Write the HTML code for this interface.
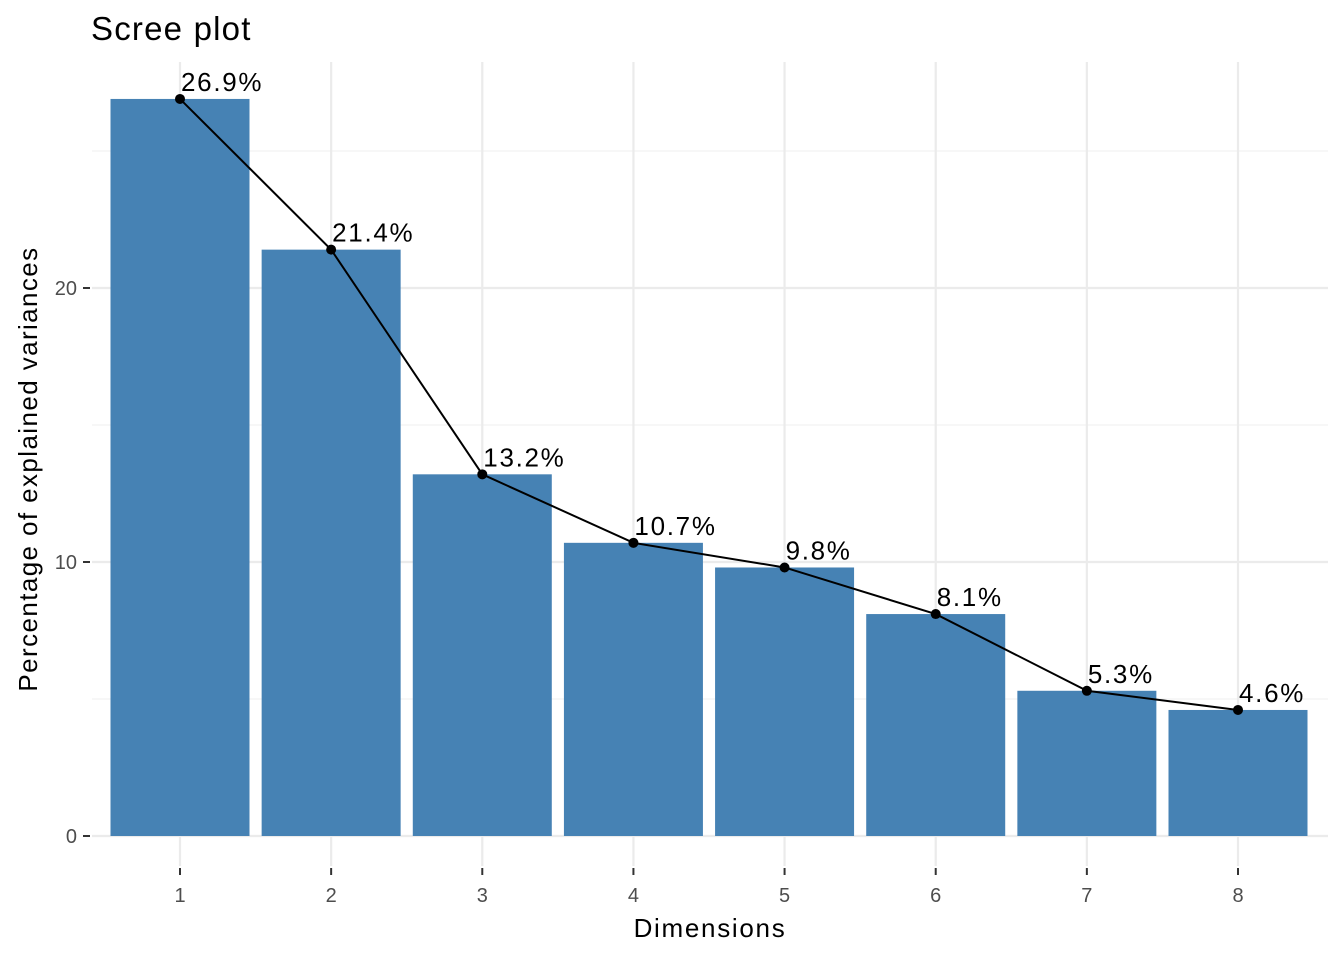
<!DOCTYPE html>
<html><head><meta charset="utf-8"><style>
body{margin:0;background:#fff;}
svg{display:block;font-family:"Liberation Sans",Arial,sans-serif;}
</style></head><body>
<svg id="chart" width="1344" height="960" xmlns="http://www.w3.org/2000/svg">
<text x="91" y="40" font-size="33" letter-spacing="1.2" fill="#000">Scree plot</text>
<g id="grid"></g>
<g id="bars"></g>
<g id="line"></g>
<g id="labels"></g>
<g id="axes"></g>
<text x="710" y="937" font-size="26" letter-spacing="1.7" text-anchor="middle" fill="#000">Dimensions</text>
<text transform="translate(37,469) rotate(-90)" font-size="26" letter-spacing="1.4" text-anchor="middle" fill="#000">Percentage of explained variances</text>
</svg>
<script>
const categories = ["1","2","3","4","5","6","7","8"];
const values = [26.9, 21.4, 13.2, 10.7, 9.8, 8.1, 5.3, 4.6];
const valueLabels = ["26.9%","21.4%","13.2%","10.7%","9.8%","8.1%","5.3%","4.6%"];
const yTicks = [0, 10, 20];
const yMinor = [5, 15, 25];

const NS = "http://www.w3.org/2000/svg";
const panel = {left: 92, right: 1328, top: 62, bottom: 866};
function y(v){ return 836 - v * 27.4; }
function x(i){ return 180 + i * (1058 / 7); }
const bw = 139;
function mk(tag, attrs, parent){
  const e = document.createElementNS(NS, tag);
  for (const k in attrs) e.setAttribute(k, attrs[k]);
  parent.appendChild(e); return e;
}
const grid = document.getElementById('grid');
yMinor.forEach(v => {
  const l = mk('line', {x1: panel.left, x2: panel.right, y1: y(v), y2: y(v), stroke: '#f2f2f2', 'stroke-width': 1.2}, grid);
  
  
});
yTicks.forEach(v => {
  const l = mk('line', {x1: panel.left, x2: panel.right, y1: y(v), y2: y(v), stroke: '#ebebeb', 'stroke-width': 2.2}, grid);
  
  
});
categories.forEach((c, i) => {
  const l = mk('line', {x1: x(i), x2: x(i), y1: panel.top, y2: panel.bottom, stroke: '#ebebeb', 'stroke-width': 2.2}, grid);
  
  
});
const bars = document.getElementById('bars');
values.forEach((v, i) => {
  const r = mk('rect', {x: x(i) - bw/2, y: y(v), width: bw, height: y(0) - y(v), fill: '#4682b4'}, bars);
  
  
});
const line = document.getElementById('line');
const pl = mk('polyline', {points: values.map((v, i) => x(i) + ',' + y(v)).join(' '), fill: 'none', stroke: '#000', 'stroke-width': 2}, line);


values.forEach((v, i) => {
  const p = mk('circle', {cx: x(i), cy: y(v), r: 5, fill: '#000'}, line);
  
  
});
const labels = document.getElementById('labels');
values.forEach((v, i) => {
  const t = mk('text', {x: x(i) + 1, y: y(v) - 8, 'font-size': 26, 'letter-spacing': 1.7, fill: '#000'}, labels);
  t.textContent = valueLabels[i];
  
  
});
const axes = document.getElementById('axes');
yTicks.forEach(v => {
  const tk = mk('line', {x1: 83, x2: 90, y1: y(v), y2: y(v), stroke: '#333', 'stroke-width': 2}, axes);
  
  
  const t = mk('text', {x: 77, y: y(v) + 7, 'font-size': 20, 'text-anchor': 'end', fill: '#4d4d4d'}, axes);
  t.textContent = v;
  
  
});
categories.forEach((c, i) => {
  const tk = mk('line', {x1: x(i), x2: x(i), y1: 868, y2: 875, stroke: '#333', 'stroke-width': 2}, axes);
  
  
  const t = mk('text', {x: x(i), y: 902, 'font-size': 20, 'text-anchor': 'middle', fill: '#4d4d4d'}, axes);
  t.textContent = c;
  
  
});
</script>
</body></html>
